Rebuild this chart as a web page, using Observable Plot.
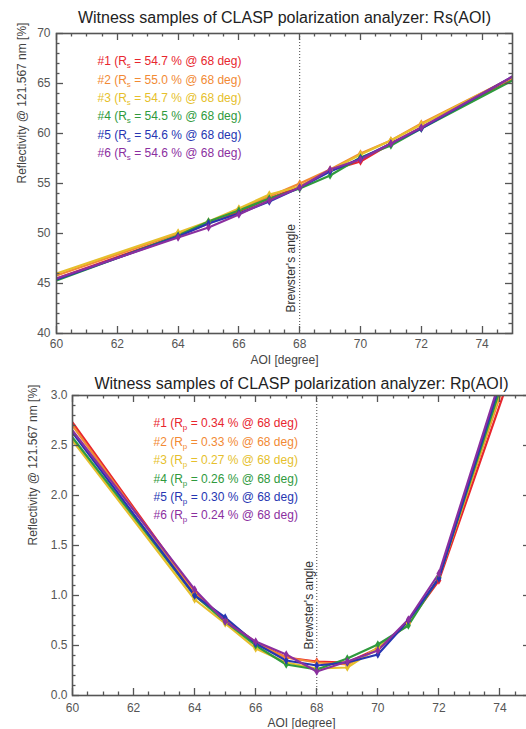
<!DOCTYPE html>
<html><head><meta charset="utf-8">
<script src="https://cdn.jsdelivr.net/npm/d3@7"></script>
<script src="https://cdn.jsdelivr.net/npm/@observablehq/plot@0.6"></script>
<style>
html,body{margin:0;padding:0;background:#fff;overflow:hidden;width:526px;height:729px}
#chart svg{display:block;max-width:none}
</style></head><body><div id="chart"></div>
<script>
// ---- data ----
const aoi = [60, 64, 65, 66, 67, 68, 69, 70, 71, 72, 75];
const samples = ["#1", "#2", "#3", "#4", "#5", "#6"];
const colors = ["#e8262e", "#f28a34", "#e6bf2c", "#2f9a3d", "#2636b2", "#8b2f9f"];

const rs1 = [45.5, 49.8, 51.0, 52.2, 53.5, 54.7, 56.3, 57.2, 59.0, 60.6, 65.5];
const rs2 = [45.8, 50.0, 51.1, 52.4, 53.7, 55.0, 56.4, 58.0, 59.3, 61.0, 65.6];
const rs3 = [46.0, 50.1, 51.2, 52.5, 53.9, 54.7, 56.3, 57.9, 59.3, 60.9, 65.6];
const rs4 = [45.3, 49.8, 51.2, 52.3, 53.5, 54.5, 55.8, 57.6, 58.8, 60.5, 65.3];
const rs5 = [45.4, 49.7, 51.0, 52.0, 53.2, 54.6, 56.2, 57.5, 59.0, 60.5, 65.7];
const rs6 = [45.5, 49.6, 50.6, 51.9, 53.3, 54.6, 56.4, 57.4, 59.0, 60.6, 65.7];

const rp1 = [2.73, 1.03, 0.76, 0.53, 0.38, 0.34, 0.33, 0.47, 0.73, 1.15, 3.79];
const rp2 = [2.70, 1.02, 0.75, 0.52, 0.38, 0.33, 0.31, 0.46, 0.72, 1.18, 3.90];
const rp3 = [2.55, 0.96, 0.72, 0.47, 0.33, 0.27, 0.28, 0.48, 0.72, 1.18, 3.95];
const rp4 = [2.58, 1.00, 0.74, 0.50, 0.31, 0.26, 0.37, 0.51, 0.70, 1.18, 4.00];
const rp5 = [2.63, 1.00, 0.78, 0.52, 0.35, 0.30, 0.33, 0.41, 0.75, 1.17, 4.09];
const rp6 = [2.65, 1.06, 0.74, 0.54, 0.41, 0.24, 0.34, 0.45, 0.76, 1.22, 4.12];

const xTicks = [60, 62, 64, 66, 68, 70, 72, 74];
const rsTicks = [40, 45, 50, 55, 60, 65, 70];
const rpTicks = [0.0, 0.5, 1.0, 1.5, 2.0, 2.5, 3.0];
const brewster = 68;

const rsSeries = [rs1, rs2, rs3, rs4, rs5, rs6];
const rpSeries = [rp1, rp2, rp3, rp4, rp5, rp6];

function table(series) {
  return series.flatMap((vals, i) => vals.map((v, j) => ({sample: samples[i], aoi: aoi[j], v})));
}

const FONT = "Liberation Sans, Arial, Helvetica, sans-serif";
const AX = "#555";

function chart(cfg) {
  const data = table(cfg.series);
  const xMinor = d3.range(60.5, 75, 0.5).filter(v => v % 2 !== 0);
  const yMinor = d3.range(cfg.yDomain[0], cfg.yDomain[1] + 1e-9, cfg.yMinorStep)
    .filter(v => !cfg.yTicks.some(t => Math.abs(t - v) < 1e-9));
  const legend = cfg.series.map((vals, i) => {
    const v = vals[aoi.indexOf(brewster)];
    return Plot.text([`${samples[i]} (R_${cfg.sub} = ${v.toFixed(cfg.dec)} % @ 68 deg)`], {
      frameAnchor: "top-left", textAnchor: "start", lineAnchor: "middle",
      dx: cfg.legDx, dy: cfg.legDy + i * cfg.legStep, fill: colors[i], fontSize: 12
    });
  });
  const svg = Plot.plot({
    width: cfg.width, height: cfg.height,
    marginTop: cfg.mt, marginBottom: cfg.mb, marginLeft: cfg.ml, marginRight: cfg.mr,
    x: {domain: [60, 75], axis: null},
    y: {domain: cfg.yDomain, axis: null},
    color: {domain: samples, range: colors},
    style: {fontFamily: FONT, background: "white", overflow: "visible", maxWidth: "none"},
    marks: [
      Plot.ruleX([brewster], {stroke: "#444", strokeDasharray: "1,2", strokeWidth: 1}),
      Plot.line(data, {x: "aoi", y: "v", z: "sample", stroke: "sample", strokeWidth: 2.2, clip: true}),
      Plot.dot(data.filter(d => d.aoi > 60 && d.aoi < 75), {x: "aoi", y: "v", fill: "sample", symbol: "diamond", r: 2.6, clip: true}),
      ...legend,
      Plot.text(["Brewster's angle"], {x: () => brewster, frameAnchor: "bottom", rotate: -90, textAnchor: "start",
        lineAnchor: "middle", dx: cfg.bDx, dy: cfg.bDy, fontSize: 12, fill: "#333"}),
      Plot.axisX({anchor: "bottom", ticks: xTicks, tickSize: 0, tickPadding: cfg.xPad, label: null, fontSize: 12, fill: AX}),
      Plot.axisY({anchor: "left", ticks: cfg.yTicks, tickSize: 0, tickPadding: cfg.yPad, label: null, fontSize: 12, fill: AX,
        tickFormat: cfg.fmt}),
      Plot.text(["AOI [degree]"], {frameAnchor: "bottom", dy: cfg.xlDy, fontSize: 12, fill: "#444", lineAnchor: "middle"}),
      Plot.text(["Reflectivity @ 121.567 nm [%]"], {frameAnchor: "left", rotate: -90, dx: cfg.ylDx, fontSize: 12, fill: "#444", lineAnchor: "middle"}),
      Plot.text([cfg.title], {frameAnchor: "top", dy: cfg.tDy, fontSize: 16, fill: "#222", lineAnchor: "middle"}),
      Plot.frame({stroke: AX, strokeWidth: 1.6})
    ]
  });

  // subscripts in the legend
  const ns = "http://www.w3.org/2000/svg";
  svg.querySelectorAll("text").forEach(t => {
    const s = t.textContent;
    const k = s.indexOf("(R_");
    if (k < 0) return;
    const a = s.slice(0, k + 2), sub = s[k + 3], rest = s.slice(k + 4);
    while (t.firstChild) t.removeChild(t.firstChild);
    const t1 = document.createElementNS(ns, "tspan"); t1.textContent = a;
    const t2 = document.createElementNS(ns, "tspan"); t2.textContent = sub;
    t2.setAttribute("dy", "3"); t2.setAttribute("font-size", "8");
    const t3 = document.createElementNS(ns, "tspan"); t3.textContent = rest; t3.setAttribute("dy", "-3");
    t.append(t1, t2, t3);
  });

  // inward ticks on all four sides, positioned with Plot's own scales
  const xs = svg.scale("x"), ys = svg.scale("y");
  const [x0, x1] = xs.range, [y0, y1] = ys.range; // y0 = bottom, y1 = top
  const g = d3.select(svg).append("g").attr("stroke", AX).attr("stroke-width", 1.3).attr("fill", "none");
  const addX = (vals, len) => vals.forEach(v => {
    const px = Math.round(xs.apply(v)) + 0.5;
    g.append("line").attr("x1", px).attr("x2", px).attr("y1", y0).attr("y2", y0 - len);
    g.append("line").attr("x1", px).attr("x2", px).attr("y1", y1).attr("y2", y1 + len);
  });
  const addY = (vals, len) => vals.forEach(v => {
    const py = Math.round(ys.apply(v)) + 0.5;
    g.append("line").attr("y1", py).attr("y2", py).attr("x1", x0).attr("x2", x0 + len);
    g.append("line").attr("y1", py).attr("y2", py).attr("x1", x1).attr("x2", x1 - len);
  });
  addX(xTicks, 7); addX(xMinor, 3.5);
  addY(cfg.yTicks, 7); addY(yMinor, 3.5);
  return svg;
}

const el = document.getElementById("chart");
el.append(chart({
  series: rsSeries, sub: "s", dec: 1, yDomain: [40, 70], yTicks: rsTicks, yMinorStep: 1, fmt: d => d,
  title: "Witness samples of CLASP polarization analyzer: Rs(AOI)",
  width: 526, height: 370, mt: 33, mb: 37, ml: 56, mr: 14,
  legDx: 41, legDy: 28, legStep: 18.3, bDx: -9, bDy: -21, xPad: 6, yPad: 6, xlDy: 27, ylDx: -34, tDy: -16
}));
el.append(chart({
  series: rpSeries, sub: "p", dec: 2, yDomain: [0, 3], yTicks: rpTicks, yMinorStep: 0.1, fmt: d3.format(".1f"),
  title: "Witness samples of CLASP polarization analyzer: Rp(AOI)",
  width: 532, height: 359, mt: 25, mb: 34, ml: 72, mr: 2,
  legDx: 81, legDy: 28, legStep: 18.4, bDx: -8, bDy: -46, xPad: 8, yPad: 5, xlDy: 28, ylDx: -39, tDy: -12
}));
</script></body></html>
